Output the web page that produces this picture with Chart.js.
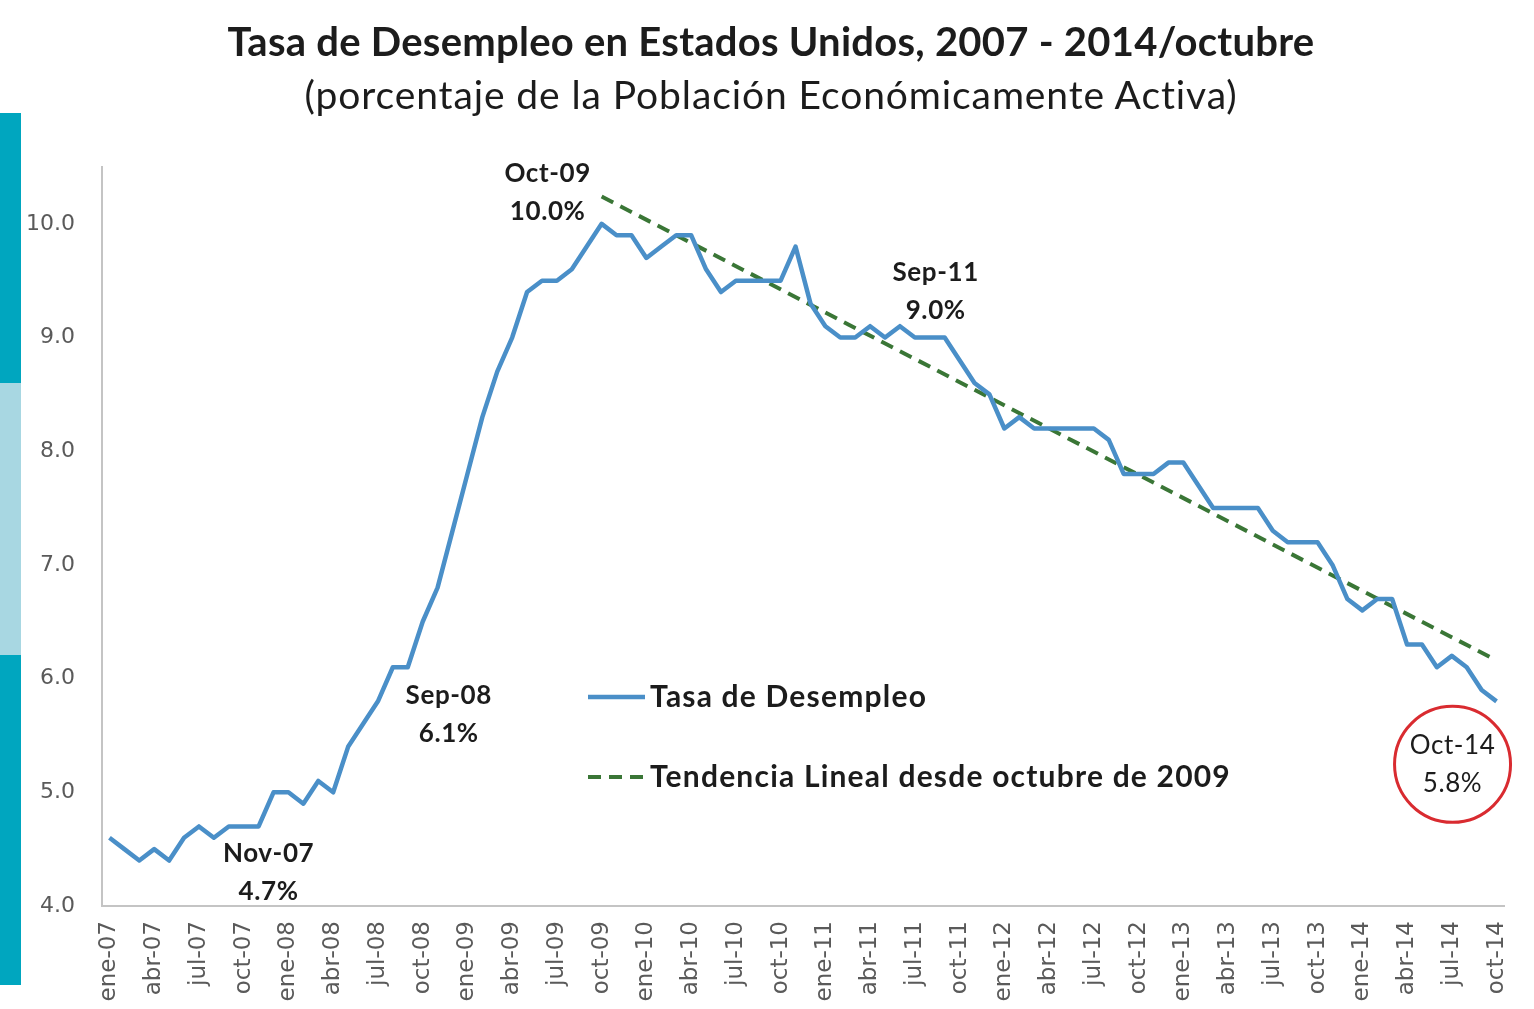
<!DOCTYPE html>
<html>
<head>
<meta charset="utf-8">
<script src="https://cdn.jsdelivr.net/npm/chart.js@4.4.1/dist/chart.umd.min.js"></script>
<style>
  html, body { margin:0; padding:0; background:#ffffff; width:1534px; height:1009px; overflow:hidden; }
  #wrap { position:relative; width:1534px; height:1009px; }
  #c { position:absolute; left:0; top:0; }
  .bar { position:absolute; left:0; width:21px; }
  .ttl { position:absolute; left:0; width:1542px; text-align:center; margin:0; font-family:Lato, "Open Sans", sans-serif; color:#1c1c1c; line-height:1; white-space:nowrap; }
  #t1 { top:21px; font-size:40px; font-weight:700; letter-spacing:0.25px; }
  #t2 { top:75px; font-size:39px; font-weight:400; letter-spacing:0.9px; }
</style>
</head>
<body>
<div id="wrap">
  <div class="bar" style="top:113px;height:270px;background:#00a6bf;"></div>
  <div class="bar" style="top:383px;height:272px;background:#a8d7e2;"></div>
  <div class="bar" style="top:655px;height:330px;background:#00a6bf;"></div>
  <canvas id="c" width="1534" height="1009"></canvas>
  <div class="ttl" id="t1">Tasa de Desempleo en Estados Unidos, 2007 - 2014/octubre</div>
  <div class="ttl" id="t2">(porcentaje de la Población Económicamente Activa)</div>
</div>
<script>
// ---------- data ----------
const monthNames = ['ene','feb','mar','abr','may','jun','jul','ago','sep','oct','nov','dic'];
const yearSuffixes = ['07','08','09','10','11','12','13','14'];

const rate2007 = [4.6, 4.5, 4.4, 4.5, 4.4, 4.6, 4.7, 4.6, 4.7, 4.7, 4.7, 5.0];
const rate2008 = [5.0, 4.9, 5.1, 5.0, 5.4, 5.6, 5.8, 6.1, 6.1, 6.5, 6.8, 7.3];
const rate2009 = [7.8, 8.3, 8.7, 9.0, 9.4, 9.5, 9.5, 9.6, 9.8, 10.0, 9.9, 9.9];
const rate2010 = [9.7, 9.8, 9.9, 9.9, 9.6, 9.4, 9.5, 9.5, 9.5, 9.5, 9.8, 9.3];
const rate2011 = [9.1, 9.0, 9.0, 9.1, 9.0, 9.1, 9.0, 9.0, 9.0, 8.8, 8.6, 8.5];
const rate2012 = [8.2, 8.3, 8.2, 8.2, 8.2, 8.2, 8.2, 8.1, 7.8, 7.8, 7.8, 7.9];
const rate2013 = [7.9, 7.7, 7.5, 7.5, 7.5, 7.5, 7.3, 7.2, 7.2, 7.2, 7.0, 6.7];
const rate2014 = [6.6, 6.7, 6.7, 6.3, 6.3, 6.1, 6.2, 6.1, 5.9, 5.8];

// linear trend since October 2009 (end values)
const trendFrom = 'oct-09';
const trendTo = 'oct-14';
const trendStartValue = 10.24;
const trendEndValue = 6.16;

const yTickValues = [4, 5, 6, 7, 8, 9, 10];

// highlighted months
const highlightMonths = ['nov-07', 'sep-08', 'oct-09', 'sep-11', 'oct-14'];
const highlightNames  = ['Nov-07', 'Sep-08', 'Oct-09', 'Sep-11', 'Oct-14'];

const seriesLabel = 'Tasa de Desempleo';
const trendLabel = 'Tendencia Lineal desde octubre de 2009';

// ---------- build ----------
const rates = [].concat(rate2007, rate2008, rate2009, rate2010, rate2011, rate2012, rate2013, rate2014);
const categories = [];
yearSuffixes.forEach(y => monthNames.forEach(m => categories.push(m + '-' + y)));
categories.length = rates.length;

const iFrom = categories.indexOf(trendFrom);
const iTo = categories.indexOf(trendTo);
const trendData = categories.map((_, i) => i === iFrom ? trendStartValue : (i === iTo ? trendEndValue : null));

// label placement (pixel offsets from the data point) – style, not data
const highlightStyle = {
  'nov-07': { dx: 10,  dy: 27,  bold: true },
  'sep-08': { dx: 41,  dy: 28,  bold: true },
  'oct-09': { dx: -54, dy: -50, bold: true },
  'sep-11': { dx: -9,  dy: -65, bold: true },
  'oct-14': { dx: -44, dy: 44,  bold: false, circle: { dy: 19, r: 58 } }
};

const BLUE = '#4a8fc8';
const GREEN = '#3a7636';
const TEXT = '#1c1c1c';
const TICK = '#5a5a5a';

const annotationPlugin = {
  id: 'highlights',
  afterDatasetsDraw(chart) {
    const ctx = chart.ctx;
    const xs = chart.scales.x, ys = chart.scales.y;
    ctx.save();
    highlightMonths.forEach((m, k) => {
      const i = categories.indexOf(m);
      const st = highlightStyle[m];
      const px = xs.getPixelForValue(i);
      const py = ys.getPixelForValue(rates[i]);
      const cx = px + st.dx, cy = py + st.dy;
      ctx.fillStyle = TEXT;
      ctx.textAlign = 'center';
      ctx.textBaseline = 'middle';
      ctx.letterSpacing = '0.6px';
      ctx.font = (st.bold ? '700 ' : '400 ') + '26px Lato, "Open Sans", sans-serif';
      ctx.fillText(highlightNames[k], cx, cy);
      ctx.fillText(rates[i].toFixed(1) + '%', cx, cy + 38);
      if (st.circle) {
        ctx.beginPath();
        ctx.strokeStyle = '#d92b30';
        ctx.lineWidth = 3;
        ctx.arc(cx, cy + st.circle.dy, st.circle.r, 0, Math.PI * 2);
        ctx.stroke();
      }
    });
    ctx.restore();
  }
};

const legendPlugin = {
  id: 'innerLegend',
  afterDatasetsDraw(chart) {
    const ctx = chart.ctx;
    const a = chart.chartArea;
    const x0 = a.left + 486, x1 = a.left + 543, tx = a.left + 548;
    const rows = [a.top + 530, a.top + 610];
    ctx.save();
    chart.data.datasets.forEach((ds, k) => {
      const y = rows[k];
      ctx.beginPath();
      ctx.strokeStyle = ds.borderColor;
      ctx.lineWidth = ds.borderWidth;
      ctx.setLineDash(ds.borderDash || []);
      ctx.moveTo(x0, y);
      ctx.lineTo(x1, y);
      ctx.stroke();
      ctx.setLineDash([]);
      ctx.fillStyle = TEXT;
      ctx.letterSpacing = '1.2px';
      ctx.font = '700 30px Lato, "Open Sans", sans-serif';
      ctx.textAlign = 'left';
      ctx.textBaseline = 'middle';
      ctx.fillText(ds.label, tx, y);
    });
    ctx.restore();
  }
};

new Chart(document.getElementById('c'), {
  type: 'line',
  data: {
    labels: categories,
    datasets: [
      {
        label: seriesLabel,
        data: rates,
        borderColor: BLUE,
        borderWidth: 4.5,
        pointRadius: 0,
        tension: 0,
        borderJoinStyle: 'round',
        fill: false
      },
      {
        label: trendLabel,
        data: trendData,
        borderColor: GREEN,
        borderWidth: 4,
        borderDash: [13, 8],
        pointRadius: 0,
        spanGaps: true,
        fill: false
      }
    ]
  },
  options: {
    responsive: false,
    animation: false,
    devicePixelRatio: 1,
    layout: { padding: { top: 167, right: 30, left: 0, bottom: 0 } },
    plugins: {
      legend: { display: false },
      title: { display: false },
      tooltip: { enabled: false }
    },
    scales: {
      x: {
        type: 'category',
        offset: true,
        grid: { display: false, drawTicks: false },
        border: { display: true, color: '#c4c4c4', width: 2 },
        ticks: {
          autoSkip: false,
          maxRotation: 90,
          minRotation: 90,
          padding: 15,
          color: TICK,
          font: { family: '"DejaVu Sans", sans-serif', size: 23 },
          callback: (v, i) => (i % 3 === 0 ? categories[i] : '')
        },
        afterFit: s => { s.height = 103; s.paddingLeft = 0; s.paddingRight = 0; }
      },
      y: {
        min: 4,
        max: 10.5,
        grid: { display: false, drawTicks: false },
        border: { display: true, color: '#c4c4c4', width: 2 },
        ticks: {
          stepSize: 1,
          padding: 27,
          color: TICK,
          font: { family: '"DejaVu Sans", sans-serif', size: 22 },
          callback: v => Number(v).toFixed(1)
        },
        afterBuildTicks: s => { s.ticks = yTickValues.map(v => ({ value: v })); },
        afterFit: s => { s.width = 102; s.paddingTop = 0; s.paddingBottom = 0; }
      }
    }
  },
  plugins: [annotationPlugin, legendPlugin]
});
</script>
</body>
</html>
